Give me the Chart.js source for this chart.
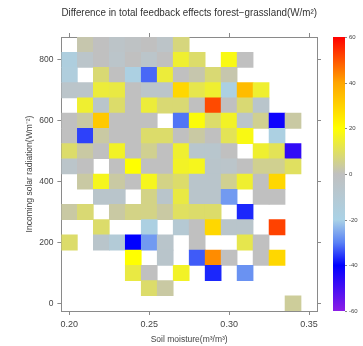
<!DOCTYPE html>
<html>
<head>
<meta charset="utf-8">
<script src="https://cdn.jsdelivr.net/npm/chart.js@4/dist/chart.umd.min.js"></script>
<style>
  html, body { margin: 0; padding: 0; background: #fff; }
  #wrap { width: 363px; height: 346px; position: relative; }
</style>
</head>
<body>
<div id="wrap"><canvas id="chart" width="363" height="346"></canvas></div>
<script>
// Bin centres: soil moisture (m3/m3) and incoming solar radiation (W/m2)
const soilMoisture = [0.20, 0.21, 0.22, 0.23, 0.24, 0.25, 0.26, 0.27, 0.28, 0.29, 0.30, 0.31, 0.32, 0.33, 0.34, 0.35];
const radiation = [850, 800, 750, 700, 650, 600, 550, 500, 450, 400, 350, 300, 250, 200, 150, 100, 50, 0];

// Difference in total feedback effects (forest - grassland), W/m2.
// One row per radiation bin (top to bottom), one column per soil-moisture bin; null = no data.
const feedbackDiff = [
  [null, 2, 0, -4, -2, 0, -4, 7, null, null, null, null, null, null, null, null],
  [-16, -5, 0, -5, 0, -5, 0, 15, 9, null, 18, 0, null, null, null, null],
  [-15, null, 8, 0, -18, -32, 14, 0, 2, 8, 2, null, null, null, null, null],
  [-5, -5, 14, 13, 0, -5, -5, 29, 12, 15, -18, 35, 15, null, null, null],
  [null, 15, -6, 9, 0, 14, 8, 8, 0, 51, 0, 8, -6, null, null, null],
  [0, 3, 32, 0, 0, 0, null, -31, 19, 9, 16, -5, 5, -42, 3, null],
  [0, -35, 3, 0, 0, 9, 9, 0, 3, 0, 11, 18, null, -18, null, null],
  [9, 3, 0, 16, 0, 5, 0, 15, -7, -7, 0, null, 15, 11, -47, null],
  [-5, 0, null, 0, 20, 0, 0, 16, 17, -6, -5, 0, 5, 5, 10, null],
  [null, 3, 17, 3, 0, 17, 6, 9, -6, -6, 5, 15, 0, 29, null, null],
  [null, null, -6, -6, null, 6, -6, 13, -6, -6, -27, null, 0, 0, null, null],
  [3, 8, null, 3, 6, 6, 3, 10, 9, 9, null, -37, null, null, null, null],
  [null, null, 9, null, null, -18, null, -10, 0, 29, -6, -6, null, 52, null, null],
  [9, null, -6, -12, -40, -27, -6, null, 0, null, null, 12, 0, null, null, null],
  [null, null, null, null, 20, null, -6, null, -33, 43, 0, null, 0, 29, null, null],
  [null, null, null, null, 13, 0, null, 16, null, -37, null, -28, null, null, null, null],
  [null, null, null, null, null, 9, 3, null, null, null, null, null, null, null, null, null],
  [null, null, null, null, null, null, null, null, null, null, null, null, null, null, 4, null]
];

const xTicks = [0.20, 0.25, 0.30, 0.35];
const yTicks = [0, 200, 400, 600, 800];
const colorbarTicks = [60, 40, 20, 0, -20, -40, -60];

// Bin sizes
const binX = 0.01;
const binY = 50;

// Diverging colour map: value -> rgb
const cmapStops = [
  [-60, [140, 30, 230]],
  [-40, [0, 0, 255]],
  [-30, [90, 130, 245]],
  [-20, [170, 210, 230]],
  [0, [192, 192, 192]],
  [20, [255, 255, 0]],
  [40, [255, 165, 0]],
  [60, [255, 0, 0]]
];

function colorFor(v) {
  const vmin = cmapStops[0][0], vmax = cmapStops[cmapStops.length - 1][0];
  v = Math.max(vmin, Math.min(vmax, v));
  for (let i = 1; i < cmapStops.length; i++) {
    const [v1, c1] = cmapStops[i];
    const [v0, c0] = cmapStops[i - 1];
    if (v <= v1) {
      const t = (v - v0) / (v1 - v0);
      const c = c0.map((a, k) => Math.round(a + (c1[k] - a) * t));
      return `rgb(${c[0]},${c[1]},${c[2]})`;
    }
  }
  const c = cmapStops[cmapStops.length - 1][1];
  return `rgb(${c[0]},${c[1]},${c[2]})`;
}

// One floating bar per non-empty bin
const cells = [];
radiation.forEach((r, i) => {
  feedbackDiff[i].forEach((v, j) => {
    if (v !== null) cells.push({ x: soilMoisture[j], y: [r - binY / 2, r + binY / 2], v });
  });
});

const FONT = "'Liberation Sans', Arial, sans-serif";
const AXIS_COLOR = '#8a8a8a';
const TEXT_COLOR = '#444';

// Colour bar drawn beside the plot, positioned with the hidden 'cb' scale
const colorbarPlugin = {
  id: 'colorbar',
  afterDraw(chart) {
    const s = chart.scales.cb;
    const ctx = chart.ctx;
    const x0 = chart.chartArea.right + 16;
    const w = 12;
    const yTop = s.getPixelForValue(60);
    const yBot = s.getPixelForValue(-60);
    ctx.save();
    const g = ctx.createLinearGradient(0, yBot, 0, yTop);
    cmapStops.forEach(([v]) => g.addColorStop((v + 60) / 120, colorFor(v)));
    ctx.fillStyle = g;
    ctx.fillRect(x0, yTop, w, yBot - yTop);
    ctx.strokeStyle = AXIS_COLOR;
    ctx.lineWidth = 1;
    ctx.fillStyle = TEXT_COLOR;
    ctx.font = `6px ${FONT}`;
    ctx.textAlign = 'left';
    ctx.textBaseline = 'middle';
    colorbarTicks.forEach(v => {
      const y = Math.round(s.getPixelForValue(v)) + 0.5;
      ctx.beginPath();
      ctx.moveTo(x0 + w, y);
      ctx.lineTo(x0 + w + 2, y);
      ctx.stroke();
      ctx.fillText(String(v), x0 + w + 4, y);
    });
    ctx.restore();
  }
};

const gridOpts = { drawOnChartArea: false, drawTicks: true, tickLength: 4, color: AXIS_COLOR, offset: false };
const borderOpts = { display: true, color: AXIS_COLOR, width: 1 };

new Chart(document.getElementById('chart'), {
  type: 'bar',
  data: {
    datasets: [{
      data: cells,
      backgroundColor: ctx => colorFor(ctx.raw.v),
      borderWidth: 0,
      barPercentage: 1,
      categoryPercentage: 1,
      grouped: false
    }]
  },
  options: {
    responsive: false,
    animation: false,
    devicePixelRatio: 1,
    layout: { padding: { left: 20, right: 42, top: 0, bottom: 1 } },
    plugins: {
      legend: { display: false },
      tooltip: { enabled: false },
      title: {
        display: true,
        fullSize: false,
        text: 'Difference in total feedback effects forest−grassland(W/m²)',
        color: '#333',
        font: { family: FONT, size: 10, weight: 'normal' },
        padding: { top: 7, bottom: 14 }
      }
    },
    scales: {
      x: {
        type: 'linear', position: 'bottom', min: 0.195, max: 0.355, offset: false,
        afterBuildTicks: s => { s.ticks = xTicks.map(v => ({ value: v })); },
        ticks: { callback: v => v.toFixed(2), color: TEXT_COLOR, font: { family: FONT, size: 9 }, padding: 4, maxRotation: 0 },
        grid: gridOpts, border: borderOpts,
        title: { display: true, text: 'Soil moisture(m³/m³)', color: TEXT_COLOR, font: { family: FONT, size: 8.5 }, padding: { top: 1, bottom: 0 } }
      },
      x2: {
        type: 'linear', position: 'top', min: 0.195, max: 0.355, offset: false,
        afterBuildTicks: s => { s.ticks = xTicks.map(v => ({ value: v })); },
        ticks: { display: false },
        grid: gridOpts, border: borderOpts
      },
      y: {
        type: 'linear', position: 'left', min: -25, max: 875,
        afterBuildTicks: s => { s.ticks = yTicks.map(v => ({ value: v })); },
        ticks: { color: TEXT_COLOR, font: { family: FONT, size: 8.5 }, padding: 4 },
        grid: gridOpts, border: borderOpts,
        title: { display: true, text: 'Incoming solar radiation(Wm⁻²)', color: TEXT_COLOR, font: { family: FONT, size: 8.5 }, padding: { top: 5, bottom: 0 } }
      },
      y2: {
        type: 'linear', position: 'right', min: -25, max: 875,
        afterBuildTicks: s => { s.ticks = yTicks.map(v => ({ value: v })); },
        ticks: { display: false },
        grid: gridOpts, border: borderOpts
      },
      cb: {
        type: 'linear', position: 'right', display: false, min: -60, max: 60
      }
    }
  },
  plugins: [colorbarPlugin]
});
</script>
</body>
</html>
